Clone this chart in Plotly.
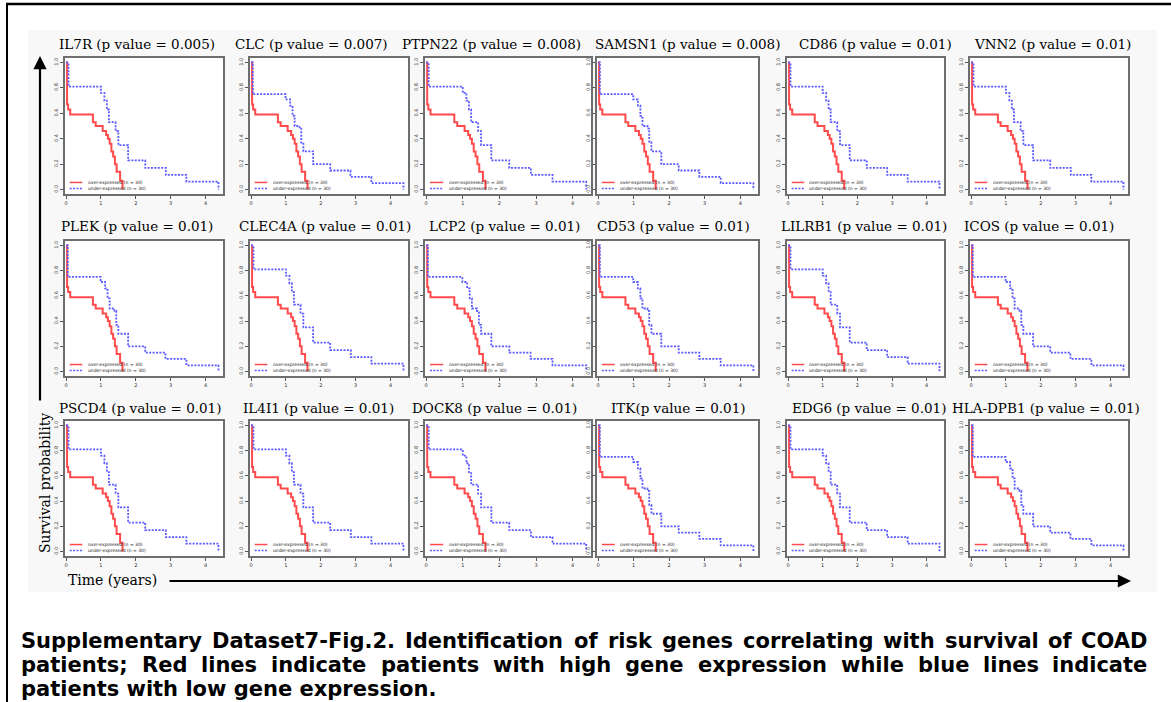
import plotly.graph_objects as go

W, H = 1171, 702

# ---------------- data ----------------
TITLES = [
    "IL7R (p value = 0.005)", "CLC (p value = 0.007)", "PTPN22 (p value = 0.008)",
    "SAMSN1 (p value = 0.008)", "CD86 (p value = 0.01)", "VNN2 (p value = 0.01)",
    "PLEK (p value = 0.01)", "CLEC4A (p value = 0.01)", "LCP2 (p value = 0.01)",
    "CD53 (p value = 0.01)", "LILRB1 (p value = 0.01)", "ICOS (p value = 0.01)",
    "PSCD4 (p value = 0.01)", "IL4I1 (p value = 0.01)", "DOCK8 (p value = 0.01)",
    "ITK(p value = 0.01)", "EDG6 (p value = 0.01)", "HLA-DPB1 (p value = 0.01)",
]
BLUE_VARIANT = ["A", "B", "A", "B", "A", "A",
                "B", "A", "B", "B", "A", "B",
                "A", "A", "A", "B", "A", "B"]

# over-expressed (red) Kaplan-Meier steps
RED_T = [0, 0.03, 0.06, 0.12, 0.77, 0.85, 1.05, 1.15, 1.2, 1.25, 1.3, 1.35, 1.4, 1.45, 1.55, 1.62]
RED_S = [1.0, 0.67, 0.63, 0.59, 0.53, 0.50, 0.46, 0.43, 0.40, 0.36, 0.30, 0.26, 0.20, 0.14, 0.07, 0.0]
# under-expressed (blue) Kaplan-Meier steps, two shapes seen in the panels
BLUE_T_A = [0, 0.07, 1.0, 1.1, 1.17, 1.23, 1.42, 1.5, 1.78, 2.27, 2.86, 3.45, 4.37]
BLUE_S_A = [1.0, 0.81, 0.76, 0.70, 0.63, 0.53, 0.46, 0.35, 0.23, 0.17, 0.115, 0.063, 0.0]
BLUE_T_B = [0, 0.05, 0.99, 1.12, 1.19, 1.25, 1.39, 1.44, 1.5, 1.78, 2.27, 2.85, 3.45, 4.37]
BLUE_S_B = [1.0, 0.75, 0.71, 0.66, 0.58, 0.50, 0.48, 0.37, 0.30, 0.20, 0.15, 0.10, 0.05, 0.0]

XTICKS = [0, 1, 2, 3, 4]
YTICKS = [0, 0.2, 0.4, 0.6, 0.8, 1.0]
YTICK_TEXT = ["0.0", "0.2", "0.4", "0.6", "0.8", "1.0"]
LEGEND_LABELS = ["over-expressed (n = 30)", "under-expressed (n = 30)"]

CAPTION_LINES = [
    "Supplementary Dataset7-Fig.2. Identification of risk genes correlating with survival of COAD",
    "patients; Red lines indicate patients with high gene expression while blue lines indicate",
    "patients with low gene expression.",
]

# ---------------- layout constants ----------------
COL_X = [(65, 223), (250, 408), (425, 591), (597, 758), (787, 944), (970, 1128)]
ROW_Y = [(58, 194), (241, 376), (421, 556)]
TITLE_LEFT = [57, 233, 400, 593, 797, 972,
              59, 237, 427, 595, 779, 962,
              57, 241, 410, 609, 790, 950]
TITLE_ROW_Y = [44, 226, 408]
RED = "#ff4b4b"
BLUE = "#5a5aff"
SERIF = "DejaVu Serif"


def px(x):
    return x / W


def py(y):
    return 1 - y / H


fig = go.Figure()
shapes = []
annotations = []

# light grey figure area and outer frame
shapes.append(dict(type="rect", xref="paper", yref="paper", x0=px(28), x1=px(1157), y0=py(592), y1=py(30),
                   fillcolor="#f8f8f8", line=dict(width=0), layer="below"))
shapes.append(dict(type="line", xref="paper", yref="paper", x0=px(6), x1=1, y0=py(4), y1=py(4),
                   line=dict(color="black", width=2.5)))
shapes.append(dict(type="line", xref="paper", yref="paper", x0=px(7), x1=px(7), y0=py(3), y1=0,
                   line=dict(color="black", width=2)))

for i in range(18):
    r, c = divmod(i, 6)
    n = i + 1
    sfx = "" if n == 1 else str(n)
    xa, ya = "x" + sfx, "y" + sfx
    bt, bs = (BLUE_T_A, BLUE_S_A) if BLUE_VARIANT[i] == "A" else (BLUE_T_B, BLUE_S_B)
    fig.add_trace(go.Scatter(x=RED_T, y=RED_S, mode="lines", xaxis=xa, yaxis=ya,
                             line=dict(color=RED, width=2, shape="hv"),
                             showlegend=False, hoverinfo="skip"))
    fig.add_trace(go.Scatter(x=bt, y=bs, mode="lines", xaxis=xa, yaxis=ya,
                             line=dict(color=BLUE, width=1.8, dash="2px,1.4px", shape="hv"),
                             showlegend=False, hoverinfo="skip"))
    x0, x1 = COL_X[c]
    y0, y1 = ROW_Y[r]
    common = dict(showline=True, mirror=True, linecolor="#6e6e6e", linewidth=1.6,
                  showgrid=False, zeroline=False, ticks="outside", ticklen=3, tickwidth=1,
                  tickcolor="#555", tickfont=dict(size=5, color="#333", family="DejaVu Sans"))
    fig.update_layout({
        "xaxis" + sfx: dict(domain=[px(x0), px(x1)], range=[-0.03, 4.5], anchor=ya,
                            tickvals=XTICKS, **common),
        "yaxis" + sfx: dict(domain=[py(y1), py(y0)], range=[-0.035, 1.035], anchor=xa,
                            tickvals=YTICKS, ticktext=YTICK_TEXT, tickangle=-90, **common),
    })
    # white panel background
    shapes.append(dict(type="rect", xref=xa + " domain", yref=ya + " domain", x0=0, x1=1, y0=0, y1=1,
                       fillcolor="white", line=dict(width=0), layer="below"))
    # in-panel legend
    for k, (col, dash, yy) in enumerate([(RED, "solid", 0.085), (BLUE, "2px,1.4px", 0.04)]):
        shapes.append(dict(type="line", xref=xa + " domain", yref=ya + " domain",
                           x0=0.03, x1=0.11, y0=yy, y1=yy, line=dict(color=col, width=1.5, dash=dash)))
        annotations.append(dict(xref=xa + " domain", yref=ya + " domain", x=0.13, y=yy,
                                text=LEGEND_LABELS[k], showarrow=False, xanchor="left", yanchor="middle",
                                font=dict(size=4.5, color="#222", family="DejaVu Sans")))
    # panel title
    annotations.append(dict(xref="paper", yref="paper", x=px(TITLE_LEFT[i]), y=py(TITLE_ROW_Y[r]),
                            text=TITLES[i], showarrow=False, xanchor="left", yanchor="middle",
                            font=dict(size=13.5, color="black", family=SERIF)))

# axis arrows and labels
annotations.append(dict(xref="paper", yref="paper", x=px(40), y=py(56), ax=0, ay=346, text="",
                        showarrow=True, arrowhead=2, arrowsize=1.2, arrowwidth=2.2, arrowcolor="black"))
annotations.append(dict(xref="paper", yref="paper", x=px(1131), y=py(581), ax=-963, ay=0, text="",
                        showarrow=True, arrowhead=2, arrowsize=1.2, arrowwidth=2.2, arrowcolor="black"))
annotations.append(dict(xref="paper", yref="paper", x=px(45), y=py(483), text="Survival probability",
                        textangle=-90, showarrow=False, xanchor="center", yanchor="middle",
                        font=dict(size=14, color="black", family=SERIF)))
annotations.append(dict(xref="paper", yref="paper", x=px(66), y=py(580), text="Time (years)",
                        showarrow=False, xanchor="left", yanchor="middle",
                        font=dict(size=14, color="black", family=SERIF)))

# caption (justified word by word) - DejaVu Sans Bold advance widths (em)
AW = {' ': .348, 'a': .675, 'b': .716, 'c': .593, 'd': .716, 'e': .678, 'f': .435, 'g': .716,
      'h': .712, 'i': .343, 'j': .343, 'k': .665, 'l': .343, 'm': 1.042, 'n': .712, 'o': .687,
      'p': .716, 'q': .716, 'r': .493, 's': .595, 't': .478, 'u': .712, 'v': .652, 'w': .924,
      'x': .645, 'y': .652, 'z': .595, '.': .380, ';': .400, '-': .415, 'A': .774, 'C': .734,
      'D': .830, 'F': .683, 'I': .372, 'O': .850, 'R': .770, 'S': .720}
CAP_SIZE = 21
CAP_LEFT, CAP_RIGHT = 20, 1148
CAP_Y = [641, 665, 689]
CAP_FONT = dict(size=CAP_SIZE, color="black", family="DejaVu Sans", weight="bold")


def tw(s):
    return sum(AW.get(ch, .696) for ch in s) * CAP_SIZE


for li, line in enumerate(CAPTION_LINES):
    if li < 2:
        words = line.split(" ")
        widths = [tw(w) for w in words]
        gap = (CAP_RIGHT - CAP_LEFT - sum(widths)) / (len(words) - 1)
        x = CAP_LEFT
        for j, (wd, wwidth) in enumerate(zip(words, widths)):
            last = j == len(words) - 1
            annotations.append(dict(xref="paper", yref="paper", x=px(CAP_RIGHT if last else x),
                                    y=py(CAP_Y[li]), text=wd, showarrow=False,
                                    xanchor="right" if last else "left", yanchor="middle",
                                    font=CAP_FONT, borderpad=0))
            x += wwidth + gap
    else:
        annotations.append(dict(xref="paper", yref="paper", x=px(CAP_LEFT), y=py(CAP_Y[li]),
                                text=line, showarrow=False, xanchor="left", yanchor="middle",
                                font=CAP_FONT, borderpad=0))

fig.update_layout(width=W, height=H, margin=dict(l=0, r=0, t=0, b=0),
                  paper_bgcolor="white", plot_bgcolor="rgba(0,0,0,0)",
                  shapes=shapes, annotations=annotations, showlegend=False)
fig.write_html("out.html", config={"displayModeBar": False},
               post_script="document.body.style.margin='0';document.body.style.padding='0';"
                           "document.body.style.overflow='hidden';")
